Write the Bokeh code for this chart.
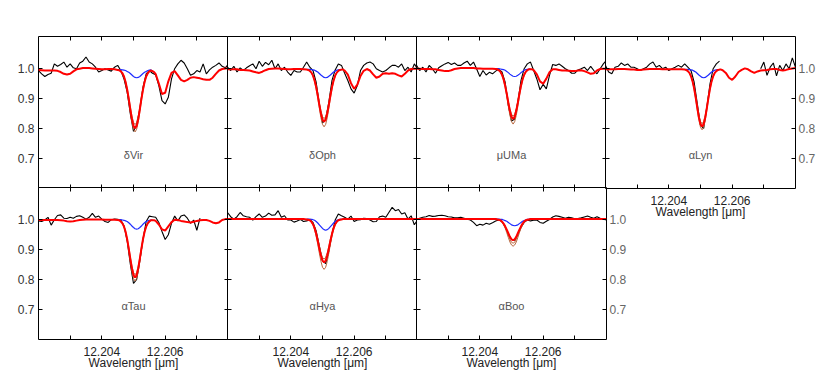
import numpy as np
from bokeh.plotting import figure
from bokeh.layouts import row, column
from bokeh.models import (Range1d, LinearAxis, FixedTicker, ColumnDataSource, Label,
                          PrintfTickFormatter)
from bokeh.embed import file_html
from bokeh.resources import INLINE

nan = float("nan")

# ---------------- data ----------------
STARS = ["δVir", "δOph", "μUMa", "αLyn", "αTau", "αHya", "αBoo"]
X_TICKS = [12.204, 12.206]
X_MINOR = [12.203, 12.205, 12.207]
Y_TICKS = [0.7, 0.8, 0.9, 1.0]
X_START, X_END = 12.202, 12.208
Y_START, Y_END = 0.6, 1.105
LABEL_WL, LABEL_FLUX = 12.205, 0.71
X_TITLE = "Wavelength [μm]"

WL_OBS = [12.2020, 12.2021, 12.2022, 12.2023, 12.2024, 12.2025, 12.2026, 12.2027, 12.2028, 12.2029,
          12.2030, 12.2031, 12.2032, 12.2033, 12.2034, 12.2035, 12.2036, 12.2037, 12.2038, 12.2039,
          12.2040, 12.2041, 12.2042, 12.2043, 12.2044, 12.2045, 12.2046, 12.2047, 12.2048, 12.2049,
          12.2050, 12.2051, 12.2052, 12.2053, 12.2054, 12.2055, 12.2056, 12.2057, 12.2058, 12.2059,
          12.2060, 12.2061, 12.2062, 12.2063, 12.2064, 12.2065, 12.2066, 12.2067, 12.2068, 12.2069,
          12.2070, 12.2071, 12.2072, 12.2073, 12.2074, 12.2075, 12.2076, 12.2077, 12.2078, 12.2079,
          12.2080]

WL_MOD = [12.2020, 12.2021, 12.2022, 12.2023, 12.2024, 12.2025, 12.2026, 12.2027, 12.2028, 12.2029,
          12.2030, 12.2031, 12.2032, 12.2033, 12.2034, 12.2035, 12.2036, 12.2037, 12.2038, 12.2039,
          12.2040, 12.2041, 12.2042, 12.2043, 12.2044,
          12.2045, 12.20455, 12.2046, 12.20465, 12.2047, 12.20475, 12.2048, 12.20485, 12.2049, 12.20495,
          12.2050, 12.20505, 12.2051, 12.20515, 12.2052, 12.20525, 12.2053, 12.20535, 12.2054, 12.20545,
          12.2055, 12.20555, 12.2056, 12.20565, 12.2057,
          12.2058, 12.2059, 12.2060, 12.2061, 12.2062, 12.2063, 12.2064, 12.2065, 12.2066, 12.2067,
          12.2068, 12.2069, 12.2070, 12.2071, 12.2072, 12.2073, 12.2074, 12.2075, 12.2076, 12.2077,
          12.2078, 12.2079, 12.2080]

WL_CORE = [12.2045, 12.20455, 12.2046, 12.20465, 12.2047, 12.20475, 12.2048, 12.20485, 12.2049, 12.20495,
           12.2050, 12.20505, 12.2051, 12.20515, 12.2052, 12.20525, 12.2053, 12.20535, 12.2054, 12.20545,
           12.2055, 12.20555, 12.2056]

# observed spectra (black)
OBS_DVIR = [0.992, 0.981, 0.972, 0.979, 0.983, 1.014, 1.006, 1.012, 1.020, 1.003,
            1.014, 1.001, 0.998, 1.017, 1.023, 1.037, 1.020, 1.014, 1.003, 0.987,
            0.992, 0.998, 0.994, 0.990, 1.003, 1.009, 0.992, 0.964, 0.920, 0.848,
            0.790, 0.812, 0.864, 0.937, 0.981, 0.992, 0.983, 0.978, 0.942, 0.892,
            0.881, 0.903, 0.964, 0.998, 1.014, 1.026, 1.017, 0.998, 0.976, 0.981,
            0.992, 0.987, 1.014, 0.981, 0.994, 1.003, 1.009, 1.017, 1.006, 1.001,
            1.014]
OBS_DOPH = [1.003, 0.992, 1.006, 0.987, 1.001, 0.992, 1.001, 1.008, 1.014, 0.998,
            1.023, 1.006, 1.019, 1.011, 1.026, 0.998, 1.014, 0.992, 1.003, 0.987,
            0.976, 0.992, 0.987, 0.987, 1.003, 1.020, 1.003, 0.992, 0.953, 0.881,
            0.818, 0.830, 0.887, 0.959, 0.994, 1.014, 1.009, 0.983, 0.959, 0.931,
            0.917, 0.942, 0.992, 1.009, 1.017, 1.020, 1.014, 0.998, 0.992, 0.987,
            0.992, 1.001, 1.009, 1.009, 1.003, 1.014, 0.992, 1.003, 0.987, 1.014,
            0.998]
OBS_MUUMA = [1.009, 0.992, 1.003, 0.987, 1.009, 0.998, 0.983, 1.001, 1.008, 1.014,
             1.019, 1.012, 1.017, 1.009, 1.009, 1.017, 1.023, 1.009, 1.020, 0.997,
             0.972, 0.992, 0.977, 0.986, 0.981, 0.990, 0.996, 0.987, 0.953, 0.876,
             0.824, 0.831, 0.887, 0.959, 0.998, 1.014, 1.020, 0.992, 0.964, 0.928,
             0.946, 0.931, 0.976, 1.012, 1.009, 1.014, 1.006, 0.998, 0.992, 0.983,
             0.983, 0.994, 0.998, 1.003, 0.992, 1.006, 0.992, 0.981, 0.998, 1.014,
             1.026]
OBS_ALYN = [1.009, 0.987, 0.981, 1.003, 1.006, 1.017, 1.009, 1.014, 1.003, 1.003,
            0.998, 0.992, 0.998, 1.003, 1.014, 1.020, 1.003, 1.009, 0.998, 1.003,
            0.992, 0.998, 1.003, 1.009, 1.003, 1.014, 1.003, 0.992, 0.953, 0.881,
            0.810, 0.800, 0.870, 0.948, 0.998, 1.014, 1.023, nan, nan, nan,
            nan, nan, nan, nan, nan, nan, nan, nan, nan, 0.998,
            1.020, 0.976, 1.003, 1.017, 0.974, 1.009, 0.992, 1.014, 0.998, 1.034,
            1.003]
OBS_ATAU = [0.994, 0.992, 0.997, 1.006, 0.980, 0.998, 1.012, 1.014, 1.003, 1.002,
            1.006, 1.003, 1.009, 1.011, 1.006, 1.000, 1.006, 1.019, 1.006, 1.010,
            1.000, 0.992, 0.989, 0.998, 1.000, 0.999, 0.997, 0.978, 0.928, 0.850,
            0.786, 0.800, 0.861, 0.933, 0.992, 1.010, 1.008, 1.006, 0.989, 0.959,
            0.932, 0.948, 0.986, 1.010, 0.994, 1.010, 1.014, 1.003, 0.986, 0.997,
            0.963, 1.003, nan, nan, nan, nan, nan, nan, nan, nan,
            nan]
OBS_AHYA = [1.022, 1.008, 1.000, 1.008, 1.022, 1.011, 1.008, 1.006, 0.997, 1.008,
            1.017, 1.006, 1.010, 1.020, 1.013, 1.014, 1.028, 1.006, 1.011, 0.997,
            0.997, 0.990, 0.994, 0.999, 0.992, 0.994, 0.998, 0.989, 0.961, 0.911,
            0.861, 0.852, 0.894, 0.950, 0.997, 1.017, 1.011, 1.006, 1.000, 1.010,
            0.992, 0.997, 0.998, 1.003, 1.002, 0.997, 0.991, 0.992, 1.008, 1.010,
            1.006, 1.023, 1.039, 1.028, 1.032, 1.017, 1.021, 1.000, 1.011, 0.981,
            0.997]
OBS_ABOO = [1.000, 1.003, 1.006, 1.008, 1.012, 1.009, 1.010, 1.012, 1.013, 1.011,
            1.008, 1.007, 1.004, 1.004, 1.006, 1.003, 1.000, 0.997, 0.989, 0.978,
            0.983, 0.980, 0.986, 0.983, 0.988, 0.994, 0.997, 0.992, 0.975, 0.950,
            0.933, 0.930, 0.950, 0.972, 0.989, 0.997, 0.994, 0.996, 0.997, 0.989,
            0.986, 0.993, 0.999, 1.007, 1.011, 1.009, 1.006, 1.003, 1.006, 1.004,
            1.001, 1.002, 1.004, 1.007, 1.010, 1.006, 1.003, 1.008, 1.003, 1.000,
            0.997]

# best-fit synthetic spectra (red)
RED_DVIR = [0.994, 0.993, 0.992, 0.992, 0.992, 0.992, 0.991, 0.987, 0.981, 0.979,
            0.981, 0.989, 0.996, 0.998, 1.000, 1.000, 1.000, 0.999, 0.998, 0.997,
            0.996, 0.996, 0.997, 0.997, 0.996,
            0.994, 0.993, 0.989, 0.983, 0.972, 0.954, 0.929, 0.898, 0.863, 0.831,
            0.808, 0.800, 0.808, 0.831, 0.863, 0.898, 0.929, 0.954, 0.972, 0.983,
            0.989, 0.992, 0.990, 0.987, 0.980,
            0.949, 0.914, 0.918, 0.956, 0.984, 0.990, 0.976, 0.961, 0.956, 0.961,
            0.968, 0.970, 0.968, 0.966, 0.963, 0.961, 0.961, 0.968, 0.981, 0.992,
            0.997, 0.999, 1.000]
RED_DOPH = [0.996, 0.996, 0.996, 0.996, 0.994, 0.994, 0.993, 0.992, 0.989, 0.986,
            0.984, 0.988, 0.993, 0.997, 0.998, 0.999, 0.999, 0.998, 0.997, 0.996,
            0.996, 0.997, 0.997, 0.997, 0.996,
            0.995, 0.994, 0.991, 0.985, 0.975, 0.959, 0.937, 0.909, 0.878, 0.850,
            0.829, 0.822, 0.829, 0.850, 0.878, 0.909, 0.937, 0.959, 0.975, 0.985,
            0.991, 0.994, 0.995, 0.995, 0.992,
            0.978, 0.950, 0.931, 0.945, 0.974, 0.991, 0.997, 0.992, 0.979, 0.968,
            0.972, 0.981, 0.983, 0.981, 0.983, 0.981, 0.976, 0.972, 0.981, 0.992,
            0.997, 0.998, 0.998]
RED_MUUMA = [0.998, 0.998, 0.997, 0.997, 0.997, 0.996, 0.996, 0.994, 0.992, 0.990,
             0.990, 0.993, 0.997, 0.999, 1.000, 1.000, 1.000, 1.000, 1.000, 0.999,
             0.999, 0.998, 0.998, 0.998, 0.998,
             0.997, 0.996, 0.993, 0.988, 0.978, 0.963, 0.941, 0.915, 0.885, 0.858,
             0.838, 0.831, 0.838, 0.858, 0.885, 0.915, 0.941, 0.963, 0.978, 0.988,
             0.993, 0.996, 0.996, 0.996, 0.993,
             0.979, 0.956, 0.948, 0.965, 0.986, 0.996, 0.996, 0.994, 0.992, 0.992,
             0.991, 0.990, 0.990, 0.992, 0.993, 0.990, 0.986, 0.981, 0.983, 0.992,
             0.997, 0.998, 0.998]
RED_ALYN = [0.996, 0.996, 0.996, 0.996, 0.997, 0.997, 0.997, 0.996, 0.995, 0.995,
            0.994, 0.994, 0.995, 0.996, 0.997, 0.997, 0.997, 0.997, 0.996, 0.996,
            0.996, 0.996, 0.996, 0.996, 0.996,
            0.995, 0.994, 0.990, 0.984, 0.973, 0.956, 0.932, 0.901, 0.867, 0.836,
            0.814, 0.806, 0.814, 0.836, 0.867, 0.901, 0.932, 0.956, 0.973, 0.984,
            0.990, 0.994, 0.995, 0.995, 0.993,
            0.984, 0.968, 0.961, 0.972, 0.987, 0.994, 0.999, 0.996, 0.989, 0.984,
            0.989, 0.992, 0.993, 0.994, 0.996, 0.997, 0.997, 0.994, 0.992, 0.994,
            0.997, 0.999, 1.000]
RED_ATAU = [0.997, 0.997, 0.997, 0.997, 0.997, 0.997, 0.997, 0.996, 0.995, 0.993,
            0.992, 0.993, 0.995, 0.997, 0.998, 0.999, 0.999, 0.999, 0.999, 0.999,
            0.999, 0.998, 0.998, 0.998, 0.998,
            0.997, 0.996, 0.992, 0.986, 0.975, 0.958, 0.933, 0.902, 0.868, 0.837,
            0.814, 0.806, 0.814, 0.837, 0.868, 0.902, 0.933, 0.958, 0.975, 0.986,
            0.992, 0.996, 0.996, 0.996, 0.994,
            0.982, 0.966, 0.962, 0.976, 0.990, 0.998, 0.997, 0.994, 0.992, 0.990,
            0.989, 0.991, 0.994, 0.996, 0.997, 0.997, 0.994, 0.989, 0.986, 0.989,
            0.997, 1.000, 1.000]
RED_AHYA = [1.000, 1.000, 1.000, 1.000, 1.000, 1.000, 1.000, 1.000, 1.000, 1.000,
            1.000, 1.000, 1.000, 1.000, 1.000, 1.000, 1.000, 1.000, 1.000, 1.000,
            1.000, 1.000, 1.000, 1.000, 1.000,
            0.999, 0.998, 0.996, 0.991, 0.983, 0.970, 0.951, 0.928, 0.902, 0.879,
            0.862, 0.856, 0.862, 0.879, 0.902, 0.928, 0.951, 0.970, 0.983, 0.991,
            0.996, 0.998, 0.999, 1.000, 1.000,
            1.000, 1.000, 1.000, 1.000, 1.000, 1.000, 1.000, 1.000, 1.000, 1.000,
            1.000, 1.000, 1.000, 1.000, 1.000, 1.000, 1.000, 1.000, 1.000, 1.000,
            1.000, 1.000, 1.000]
RED_ABOO = [1.000, 1.000, 1.000, 1.000, 1.000, 1.000, 1.000, 1.000, 1.000, 1.000,
            1.000, 1.000, 1.000, 1.000, 1.000, 1.000, 1.000, 1.000, 1.000, 1.000,
            1.000, 1.000, 1.000, 1.000, 1.000,
            1.000, 0.999, 0.998, 0.996, 0.992, 0.985, 0.976, 0.965, 0.953, 0.941,
            0.933, 0.930, 0.933, 0.941, 0.953, 0.965, 0.976, 0.985, 0.992, 0.996,
            0.998, 0.999, 1.000, 1.000, 1.000,
            1.000, 1.000, 1.000, 1.000, 1.000, 1.000, 1.000, 1.000, 1.000, 1.000,
            1.000, 1.000, 1.000, 1.000, 1.000, 1.000, 1.000, 1.000, 1.000, 1.000,
            1.000, 1.000, 1.000]

# spectra without the line (blue)
BLUE_DVIR = [0.995, 0.995, 0.995, 0.994, 0.993, 0.992, 0.989, 0.986, 0.982, 0.977, 0.972, 0.969,
             0.968, 0.969, 0.972, 0.977, 0.982, 0.986, 0.989, 0.992, 0.993, 0.994, 0.990]
BLUE_DOPH = [0.996, 0.996, 0.996, 0.995, 0.994, 0.993, 0.990, 0.987, 0.982, 0.977, 0.973, 0.969,
             0.968, 0.969, 0.973, 0.977, 0.982, 0.987, 0.990, 0.993, 0.994, 0.995, 0.995]
BLUE_MUUMA = [0.998, 0.998, 0.998, 0.997, 0.996, 0.995, 0.993, 0.989, 0.985, 0.980, 0.976, 0.973,
              0.972, 0.973, 0.976, 0.980, 0.985, 0.989, 0.993, 0.995, 0.996, 0.997, 0.996]
BLUE_ALYN = [0.996, 0.996, 0.996, 0.995, 0.994, 0.993, 0.990, 0.987, 0.982, 0.977, 0.973, 0.969,
             0.968, 0.969, 0.973, 0.977, 0.982, 0.987, 0.990, 0.993, 0.994, 0.995, 0.995]
BLUE_ATAU = [0.998, 0.998, 0.998, 0.997, 0.996, 0.994, 0.992, 0.988, 0.983, 0.977, 0.972, 0.968,
             0.967, 0.968, 0.972, 0.977, 0.983, 0.988, 0.992, 0.994, 0.996, 0.997, 0.996]
BLUE_AHYA = [1.000, 1.000, 1.000, 0.999, 0.998, 0.996, 0.992, 0.987, 0.981, 0.975, 0.969, 0.965,
             0.963, 0.965, 0.969, 0.975, 0.981, 0.987, 0.992, 0.996, 0.998, 0.999, 1.000]
BLUE_ABOO = [1.000, 1.000, 1.000, 0.999, 0.999, 0.997, 0.995, 0.993, 0.989, 0.985, 0.981, 0.979,
             0.978, 0.979, 0.981, 0.985, 0.989, 0.993, 0.995, 0.997, 0.999, 0.999, 1.000]

# alternative-abundance synthetic spectra (brown)
B1_DVIR = [0.994, 0.992, 0.989, 0.982, 0.970, 0.951, 0.925, 0.892, 0.855, 0.821, 0.797, 0.788,
           0.797, 0.821, 0.855, 0.892, 0.925, 0.951, 0.970, 0.982, 0.989, 0.992, 0.990]
B2_DVIR = [0.994, 0.993, 0.990, 0.984, 0.973, 0.956, 0.933, 0.904, 0.871, 0.841, 0.820, 0.812,
           0.820, 0.841, 0.871, 0.904, 0.933, 0.956, 0.973, 0.984, 0.990, 0.993, 0.990]
B1_DOPH = [0.995, 0.994, 0.990, 0.984, 0.973, 0.956, 0.931, 0.901, 0.867, 0.835, 0.813, 0.805,
           0.813, 0.835, 0.867, 0.901, 0.931, 0.956, 0.973, 0.984, 0.990, 0.994, 0.995]
B2_DOPH = [0.995, 0.994, 0.991, 0.986, 0.976, 0.961, 0.940, 0.914, 0.885, 0.858, 0.839, 0.832,
           0.839, 0.858, 0.885, 0.914, 0.940, 0.961, 0.976, 0.986, 0.991, 0.994, 0.995]
B1_MUUMA = [0.997, 0.996, 0.993, 0.986, 0.976, 0.959, 0.936, 0.906, 0.873, 0.843, 0.822, 0.814,
            0.822, 0.843, 0.873, 0.906, 0.936, 0.959, 0.976, 0.986, 0.993, 0.996, 0.996]
B2_MUUMA = [0.997, 0.996, 0.993, 0.988, 0.979, 0.965, 0.944, 0.919, 0.891, 0.865, 0.847, 0.840,
            0.847, 0.865, 0.891, 0.919, 0.944, 0.965, 0.979, 0.988, 0.993, 0.996, 0.996]
B1_ALYN = [0.995, 0.993, 0.990, 0.983, 0.972, 0.954, 0.928, 0.896, 0.860, 0.827, 0.803, 0.795,
           0.803, 0.827, 0.860, 0.896, 0.928, 0.954, 0.972, 0.983, 0.990, 0.993, 0.995]
B2_ALYN = [0.995, 0.994, 0.991, 0.985, 0.974, 0.958, 0.935, 0.906, 0.873, 0.844, 0.823, 0.815,
           0.823, 0.844, 0.873, 0.906, 0.935, 0.958, 0.974, 0.985, 0.991, 0.994, 0.995]
B1_ATAU = [0.997, 0.995, 0.992, 0.985, 0.974, 0.955, 0.929, 0.896, 0.860, 0.826, 0.803, 0.794,
           0.803, 0.826, 0.860, 0.896, 0.929, 0.955, 0.974, 0.985, 0.992, 0.995, 0.996]
B2_ATAU = [0.997, 0.996, 0.993, 0.987, 0.976, 0.959, 0.936, 0.907, 0.874, 0.844, 0.823, 0.815,
           0.823, 0.844, 0.874, 0.907, 0.936, 0.959, 0.976, 0.987, 0.993, 0.996, 0.996]
B1_AHYA = [0.999, 0.998, 0.995, 0.989, 0.980, 0.965, 0.943, 0.917, 0.887, 0.860, 0.840, 0.833,
           0.840, 0.860, 0.887, 0.917, 0.943, 0.965, 0.980, 0.989, 0.995, 0.998, 0.999]
B2_AHYA = [0.999, 0.998, 0.996, 0.992, 0.984, 0.972, 0.955, 0.934, 0.910, 0.888, 0.873, 0.867,
           0.873, 0.888, 0.910, 0.934, 0.955, 0.972, 0.984, 0.992, 0.996, 0.998, 0.999]
B1_ABOO = [1.000, 0.999, 0.997, 0.994, 0.989, 0.981, 0.970, 0.955, 0.939, 0.924, 0.914, 0.910,
           0.914, 0.924, 0.939, 0.955, 0.970, 0.981, 0.989, 0.994, 0.997, 0.999, 1.000]
B2_ABOO = [1.000, 0.999, 0.998, 0.995, 0.990, 0.983, 0.973, 0.960, 0.946, 0.933, 0.923, 0.920,
           0.923, 0.933, 0.946, 0.960, 0.973, 0.983, 0.990, 0.995, 0.998, 0.999, 1.000]

# ---------------- styling ----------------
FONT = "Liberation Sans"
C_OBS, C_RED, C_BLUE, C_BROWN = "#000000", "#ff0000", "#1e2cff", "#b8683f"
FRAME_W, FRAME_H = 190, 152


def style_axis(ax, show, color="#222222", standoff=4):
    ax.axis_line_color = None
    ax.major_tick_in = 4
    ax.major_tick_out = 0
    ax.minor_tick_in = 4
    ax.minor_tick_out = 0
    ax.major_tick_line_color = "black"
    ax.minor_tick_line_color = "black"
    if show:
        ax.major_label_text_font = FONT
        ax.major_label_text_font_size = "12px"
        ax.major_label_text_color = color
        ax.major_label_standoff = standoff
    else:
        ax.major_label_text_font_size = "0px"
        ax.major_label_text_color = None
        ax.major_label_standoff = 0


def make_panel(star, obs, red, blue, b1, b2, top_row, left_lab, right_lab, bottom_lab):
    p = figure(frame_width=FRAME_W, frame_height=FRAME_H,
               x_range=Range1d(X_START, X_END), y_range=Range1d(Y_START, Y_END),
               output_backend="svg", toolbar_location=None,
               x_axis_location=None, y_axis_location=None,
               min_border_left=38 if left_lab else 0,
               min_border_right=32 if right_lab else 0,
               min_border_top=36 if top_row else 0,
               min_border_bottom=(45 if top_row else 31) if bottom_lab else 0)
    p.outline_line_color = "black"
    p.outline_line_width = 1
    p.border_fill_color = None
    p.background_fill_color = None
    p.xgrid.visible = False
    p.ygrid.visible = False

    for loc in ("below", "above"):
        ax = LinearAxis(ticker=FixedTicker(ticks=X_TICKS, minor_ticks=X_MINOR))
        show = (loc == "below") and bottom_lab
        style_axis(ax, show, color="#222222", standoff=7)
        if show:
            ax.axis_label = X_TITLE
            ax.axis_label_text_font = FONT
            ax.axis_label_text_font_size = "12px"
            ax.axis_label_text_font_style = "normal"
            ax.axis_label_text_color = "#222222"
            ax.axis_label_standoff = -3
        p.add_layout(ax, loc)
    ax = LinearAxis(ticker=FixedTicker(ticks=Y_TICKS), formatter=PrintfTickFormatter(format="%.1f"))
    style_axis(ax, left_lab, color="#333333", standoff=4)
    p.add_layout(ax, "left")
    ax = LinearAxis(ticker=FixedTicker(ticks=Y_TICKS), formatter=PrintfTickFormatter(format="%.1f"))
    style_axis(ax, right_lab, color="#666666", standoff=3)
    p.add_layout(ax, "right")

    obs_src = ColumnDataSource(dict(x=np.asarray(WL_OBS, dtype=float), y=np.asarray(obs, dtype=float)))
    p.line("x", "y", source=obs_src, line_color=C_OBS, line_width=1.1)
    core = ColumnDataSource(dict(x=WL_CORE, blue=blue, b1=b1, b2=b2))
    p.line("x", "blue", source=core, line_color=C_BLUE, line_width=1.2)
    p.line("x", "b1", source=core, line_color=C_BROWN, line_width=1)
    p.line("x", "b2", source=core, line_color=C_BROWN, line_width=1)
    mod = ColumnDataSource(dict(x=WL_MOD, y=red))
    p.line("x", "y", source=mod, line_color=C_RED, line_width=2)

    p.add_layout(Label(x=LABEL_WL, y=LABEL_FLUX, text=star, text_align="center",
                       text_baseline="middle", text_font=FONT, text_font_size="11px",
                       text_color="#555555"))
    return p


p1 = make_panel(STARS[0], OBS_DVIR, RED_DVIR, BLUE_DVIR, B1_DVIR, B2_DVIR, True, True, False, False)
p2 = make_panel(STARS[1], OBS_DOPH, RED_DOPH, BLUE_DOPH, B1_DOPH, B2_DOPH, True, False, False, False)
p3 = make_panel(STARS[2], OBS_MUUMA, RED_MUUMA, BLUE_MUUMA, B1_MUUMA, B2_MUUMA, True, False, False, False)
p4 = make_panel(STARS[3], OBS_ALYN, RED_ALYN, BLUE_ALYN, B1_ALYN, B2_ALYN, True, False, True, True)
p5 = make_panel(STARS[4], OBS_ATAU, RED_ATAU, BLUE_ATAU, B1_ATAU, B2_ATAU, False, True, False, True)
p6 = make_panel(STARS[5], OBS_AHYA, RED_AHYA, BLUE_AHYA, B1_AHYA, B2_AHYA, False, False, False, True)
p7 = make_panel(STARS[6], OBS_ABOO, RED_ABOO, BLUE_ABOO, B1_ABOO, B2_ABOO, False, False, True, True)

# neighbouring frames share their border line
p2.margin = (0, 0, 0, -1)
p3.margin = (0, 0, 0, -1)
p4.margin = (0, 0, -45, -1)
p5.margin = (-1, 0, 0, 0)
p6.margin = (-1, 0, 0, -1)
p7.margin = (-1, 0, 0, -1)

layout = column(row(p1, p2, p3, p4), row(p5, p6, p7))

open("out.html", "w").write(file_html(layout, INLINE))
